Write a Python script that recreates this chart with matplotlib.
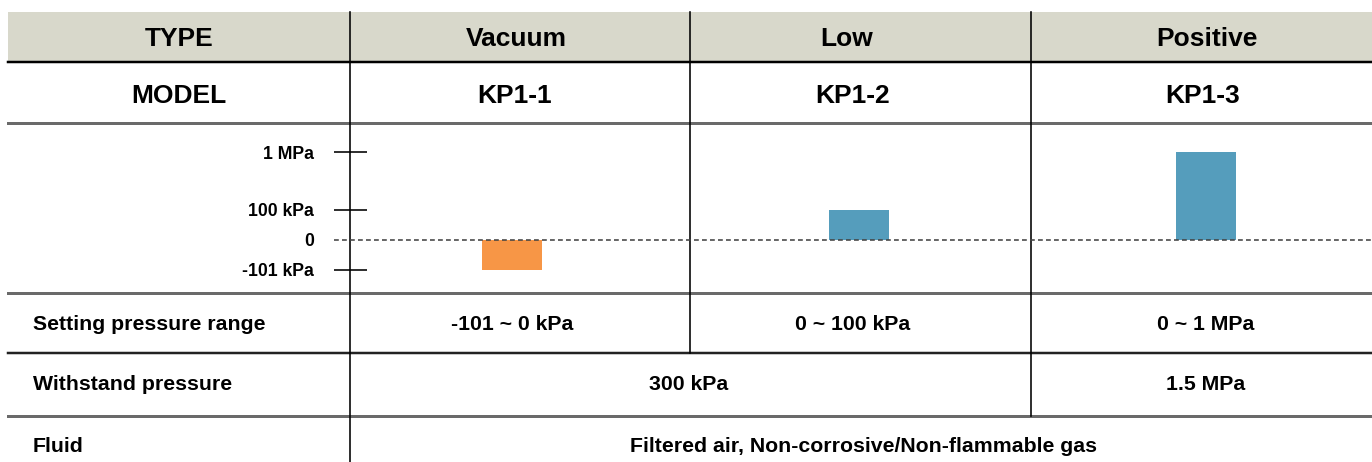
import numpy as np
import matplotlib
matplotlib.rcParams['font.family'] = ['Liberation Sans', 'DejaVu Sans']
matplotlib.rcParams['font.weight'] = 'bold'
import matplotlib.pyplot as plt
import matplotlib.transforms as mtransforms

# chart data
types = ['Vacuum', 'Low', 'Positive']
models = ['KP1-1', 'KP1-2', 'KP1-3']
range_low_kpa = [-101, 0, 0]
range_high_kpa = [0, 100, 1000]
bar_colors = ['#F79646', '#559DBC', '#559DBC']
tick_values = [-101, 0, 100, 1000]
tick_labels = ['-101 kPa', '0', '100 kPa', '1 MPa']
range_text = ['-101 ~ 0 kPa', '0 ~ 100 kPa', '0 ~ 1 MPa']
withstand_text = ['300 kPa', '1.5 MPa']
fluid_text = 'Filtered air, Non-corrosive/Non-flammable gas'

W, H = 1372, 462
PX = 0.72  # points per pixel at dpi 100


def fwd(v):
    v = np.asarray(v, dtype=float)
    pos = np.log10(np.clip(v, 100, None) / 100.0) * 1.93 + 1.0
    return np.where(v < 0, v / 101.0, np.where(v <= 100, v / 100.0, pos))


def inv(p):
    p = np.asarray(p, dtype=float)
    big = 100.0 * 10 ** ((p - 1.0) / 1.93)
    return np.where(p < 0, p * 101.0, np.where(p <= 1, p * 100.0, big))


fig = plt.figure(figsize=(W / 100, H / 100), dpi=100)

# table background, pixel coordinates
bg = fig.add_axes([0, 0, 1, 1])
bg.set_xlim(0, W)
bg.set_ylim(H, 0)
bg.axis('off')

bg.add_patch(plt.Rectangle((8, 12), W - 8, 50, color='#D8D8CB', lw=0))
bg.plot([8, W], [62, 62], color='black', lw=2.5 * PX)
for y in (123, 293, 416):
    bg.plot([8, W], [y, y], color='#6A6A6A', lw=3 * PX)
bg.plot([8, W], [353, 353], color='#222222', lw=2.5 * PX)
bg.plot([350, 350], [12, H], color='black', lw=1.6 * PX)
bg.plot([690, 690], [12, 353], color='black', lw=1.6 * PX)
bg.plot([1031, 1031], [12, 416], color='black', lw=1.6 * PX)

col_x = [516, 847, 1207]
big = 19
small = 15.3
bg.text(179, 39, 'TYPE', ha='center', va='center', fontsize=big)
bg.text(179, 96, 'MODEL', ha='center', va='center', fontsize=big)
for x, t, m in zip(col_x, types, models):
    bg.text(x, 39, t, ha='center', va='center', fontsize=big)
for x, m in zip([515, 853, 1203], models):
    bg.text(x, 96, m, ha='center', va='center', fontsize=big)

bg.text(33, 324, 'Setting pressure range', ha='left', va='center', fontsize=small)
bg.text(33, 385, 'Withstand pressure', ha='left', va='center', fontsize=small)
bg.text(33, 446, 'Fluid', ha='left', va='center', fontsize=small)
for x, t in zip([512, 853, 1206], range_text):
    bg.text(x, 324, t, ha='center', va='center', fontsize=small)
bg.text(689, 385, withstand_text[0], ha='center', va='center', fontsize=small)
bg.text(1206, 385, withstand_text[1], ha='center', va='center', fontsize=small)
bg.text(864, 446, fluid_text, ha='center', va='center', fontsize=small)

# pressure bars
ax = fig.add_axes([350 / W, 1 - 293 / H, 1 - 350 / W, 170 / H])
ax.patch.set_visible(False)
for s in ax.spines.values():
    s.set_visible(False)
ax.set_yscale('function', functions=(fwd, inv))
x = np.arange(len(models))
lows = np.array(range_low_kpa)
highs = np.array(range_high_kpa)
ax.bar(x, highs - lows, bottom=lows, width=0.174, color=bar_colors, zorder=2)
ax.set_xlim(-0.467, 2.478)
ax.set_ylim(float(inv(-1.77)), float(inv(3.9)))
ax.set_xticks([])
ax.set_yticks(tick_values)
ax.set_yticklabels(tick_labels, fontsize=12.7, fontweight='bold')
ax.tick_params(axis='y', direction='inout', length=33 * PX, width=1.6 * PX, pad=14)
ax.yaxis.get_major_ticks()[1].tick1line.set_visible(False)

trans = mtransforms.blended_transform_factory(ax.transAxes, ax.transData)
ax.plot([-16 / (W - 350), 1], [0, 0], transform=trans, clip_on=False,
        color='#444444', lw=1.6 * PX, linestyle=(0, (3, 2)), zorder=3)

fig.savefig('out.png', dpi=100)
